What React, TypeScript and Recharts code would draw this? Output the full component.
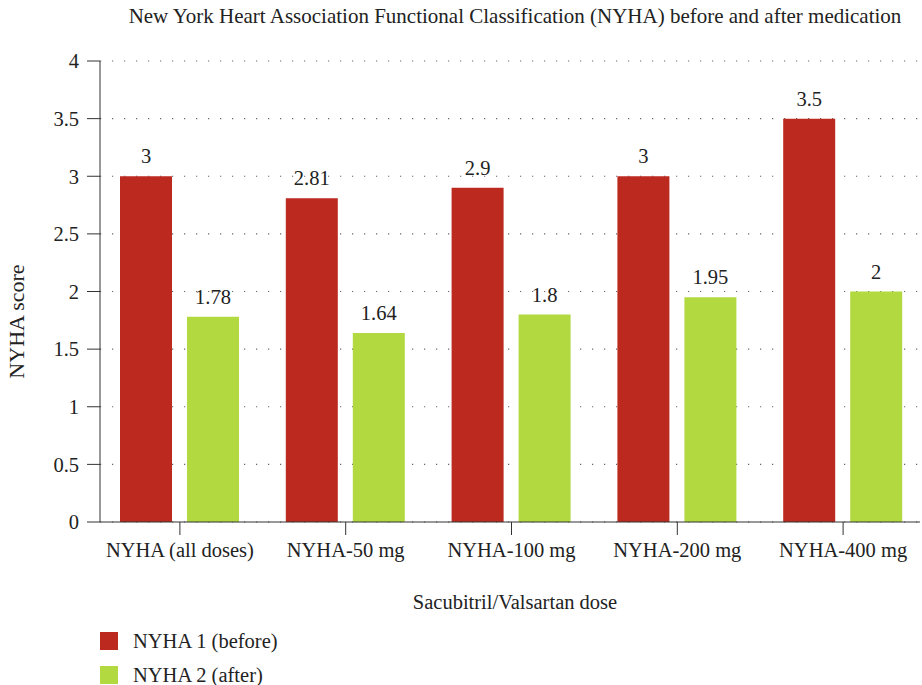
import React from 'react'
import {
  BarChart,
  Bar,
  XAxis,
  YAxis,
  CartesianGrid,
  LabelList,
} from 'recharts'

const categories = [
  'NYHA (all doses)',
  'NYHA-50 mg',
  'NYHA-100 mg',
  'NYHA-200 mg',
  'NYHA-400 mg',
]
const before = [3, 2.81, 2.9, 3, 3.5]
const after = [1.78, 1.64, 1.8, 1.95, 2]
const yTicks = [0, 0.5, 1, 1.5, 2, 2.5, 3, 3.5, 4]

const seriesNames = ['NYHA 1 (before)', 'NYHA 2 (after)']
const seriesColors = ['#bc291f', '#b2da40']

const FONT = '"Liberation Serif", "DejaVu Serif", serif'
const TEXT = '#222'
const FS = 20.5

const data = categories.map((name, i) => ({
  name,
  before: before[i],
  after: after[i],
}))

export default function App() {
  return (
    <div
      style={{
        position: 'absolute',
        left: 0,
        top: 0,
        width: 922,
        height: 685,
        fontFamily: FONT,
        color: TEXT,
        background: '#fff',
      }}
    >
      <div
        style={{
          position: 'absolute',
          left: 15,
          width: 1000,
          top: 4,
          textAlign: 'center',
          fontSize: 21,
          whiteSpace: 'nowrap',
        }}
      >
        New York Heart Association Functional Classification (NYHA) before and after medication
      </div>

      <BarChart
        width={922}
        height={685}
        data={data}
        margin={{ top: 61, right: 2, left: 0, bottom: 73 }}
        barSize={52}
        barGap={15}
      >
        <CartesianGrid
          vertical={false}
          stroke="#666"
          strokeWidth={1.2}
          strokeDasharray="1.2 10.8"
        />
        <XAxis
          dataKey="name"
          height={90}
          padding={{ left: -3, right: -6 }}
          tickSize={13}
          tickMargin={7}
          axisLine={{ stroke: '#333' }}
          tickLine={{ stroke: '#333' }}
          tick={{ fontSize: FS, fill: TEXT, fontFamily: FONT }}
          interval={0}
          label={{
            content: ({ viewBox }: any) => (
              <text
                x={viewBox.x + viewBox.width / 2 + 5}
                y={viewBox.y + 87}
                textAnchor="middle"
                fontSize={FS}
                fill={TEXT}
                fontFamily={FONT}
              >
                Sacubitril/Valsartan dose
              </text>
            ),
          }}
        />
        <YAxis
          width={100}
          domain={[0, 4]}
          ticks={yTicks}
          interval={0}
          tickSize={13}
          tickMargin={8}
          axisLine={{ stroke: '#333' }}
          tickLine={{ stroke: '#333' }}
          tick={{ fontSize: FS, fill: TEXT, fontFamily: FONT }}
          label={{
            content: ({ viewBox }: any) => {
              const cx = 24
              const cy = viewBox.y + viewBox.height / 2 + 30
              return (
                <text
                  x={cx}
                  y={cy}
                  transform={`rotate(-90 ${cx} ${cy})`}
                  textAnchor="middle"
                  fontSize={22}
                  fill={TEXT}
                  fontFamily={FONT}
                >
                  NYHA score
                </text>
              )
            },
          }}
        />
        <Bar dataKey="before" name={seriesNames[0]} fill={seriesColors[0]} isAnimationActive={false}>
          <LabelList dataKey="before" position="top" offset={13} fontSize={FS} fill={TEXT} fontFamily={FONT} />
        </Bar>
        <Bar dataKey="after" name={seriesNames[1]} fill={seriesColors[1]} isAnimationActive={false}>
          <LabelList dataKey="after" position="top" offset={13} fontSize={FS} fill={TEXT} fontFamily={FONT} />
        </Bar>
      </BarChart>

      {seriesNames.map((name, i) => (
        <div
          key={name}
          style={{
            position: 'absolute',
            left: 100,
            top: 631 + i * 34,
            height: 20,
            display: 'flex',
            alignItems: 'center',
            fontSize: FS,
          }}
        >
          <span
            style={{
              display: 'inline-block',
              width: 18,
              height: 18,
              background: seriesColors[i],
              marginRight: 15,
            }}
          />
          {name}
        </div>
      ))}
    </div>
  )
}
